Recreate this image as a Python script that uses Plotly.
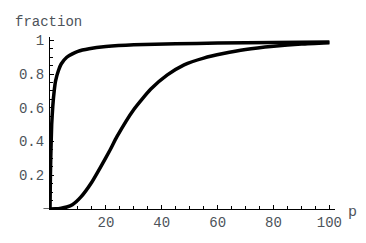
import plotly.graph_objects as go

# fast-rising curve
p_fast = [0, 0.15, 0.3, 0.6, 1, 1.5, 2, 3, 4, 6, 8, 10, 14, 20, 30, 45, 60, 80, 100]
f_fast = [0, 0.2, 0.32, 0.5, 0.61, 0.7, 0.76, 0.82, 0.86, 0.9, 0.92, 0.935, 0.95, 0.963, 0.974, 0.98, 0.984, 0.987, 0.99]

# slow sigmoid curve
p_slow = [0, 2, 4, 6, 8, 11, 15, 18.5, 21.5, 24, 30, 36, 42, 48, 55, 62, 70, 80, 90, 100]
f_slow = [0, 0.001, 0.005, 0.012, 0.025, 0.07, 0.16, 0.26, 0.35, 0.43, 0.59, 0.71, 0.795, 0.855, 0.895, 0.922, 0.946, 0.965, 0.978, 0.986]

x_tickvals = [20, 40, 60, 80, 100]
x_ticktext = ["20", "40", "60", "80", "100"]
y_tickvals = [0.2, 0.4, 0.6, 0.8, 1.0]
y_ticktext = ["0.2", "0.4", "0.6", "0.8", "1"]

FONT = "Liberation Mono, Courier New, monospace"
LABEL_COLOR = "#4d535a"

fig = go.Figure()
for xs, ys in [(p_fast, f_fast), (p_slow, f_slow)]:
    fig.add_trace(go.Scatter(x=xs, y=ys, mode="lines",
                             line=dict(color="black", width=3.5, shape="spline", smoothing=0.5),
                             showlegend=False, hoverinfo="skip"))

fig.update_layout(
    width=366, height=243,
    margin=dict(l=49.5, r=31, t=37, b=29.5),
    paper_bgcolor="white", plot_bgcolor="white",
    font=dict(family=FONT, size=14, color=LABEL_COLOR),
    xaxis=dict(range=[0, 102], showgrid=False, zeroline=False,
               showline=True, linecolor="black", linewidth=1.2,
               ticks="inside", ticklen=4, tickcolor="black", tickwidth=1,
               tickvals=x_tickvals, ticktext=x_ticktext,
               tickfont=dict(family=FONT, size=14, color=LABEL_COLOR),
               minor=dict(ticks="inside", ticklen=2.5, tickcolor="black",
                          tickvals=[5, 10, 15, 25, 30, 35, 45, 50, 55, 65, 70, 75, 85, 90, 95])),
    yaxis=dict(range=[0, 1.02], showgrid=False, zeroline=False,
               showline=True, linecolor="black", linewidth=1.2,
               ticks="inside", ticklen=4, tickcolor="black", tickwidth=1,
               tickvals=y_tickvals, ticktext=y_ticktext, ticklabelstandoff=2,
               tickfont=dict(family=FONT, size=14, color=LABEL_COLOR),
               minor=dict(ticks="inside", ticklen=2.5, tickcolor="black",
                          tickvals=[0.05, 0.1, 0.15, 0.25, 0.3, 0.35, 0.45, 0.5, 0.55,
                                    0.65, 0.7, 0.75, 0.85, 0.9, 0.95])),
)

# short extension of x-axis left of the origin (Mathematica style)
fig.add_shape(type="line", xref="paper", yref="y", x0=-0.023, x1=0, y0=0, y1=0,
              line=dict(color="black", width=1.2))

fig.add_annotation(text="fraction", xref="paper", yref="paper", x=-0.13, y=1.09,
                   xanchor="left", yanchor="middle", showarrow=False,
                   font=dict(family=FONT, size=14, color=LABEL_COLOR))
fig.add_annotation(text="p", xref="paper", yref="paper", x=1.04, y=-0.02,
                   xanchor="left", yanchor="middle", showarrow=False,
                   font=dict(family=FONT, size=15, color=LABEL_COLOR))

fig.write_html("out.html")
